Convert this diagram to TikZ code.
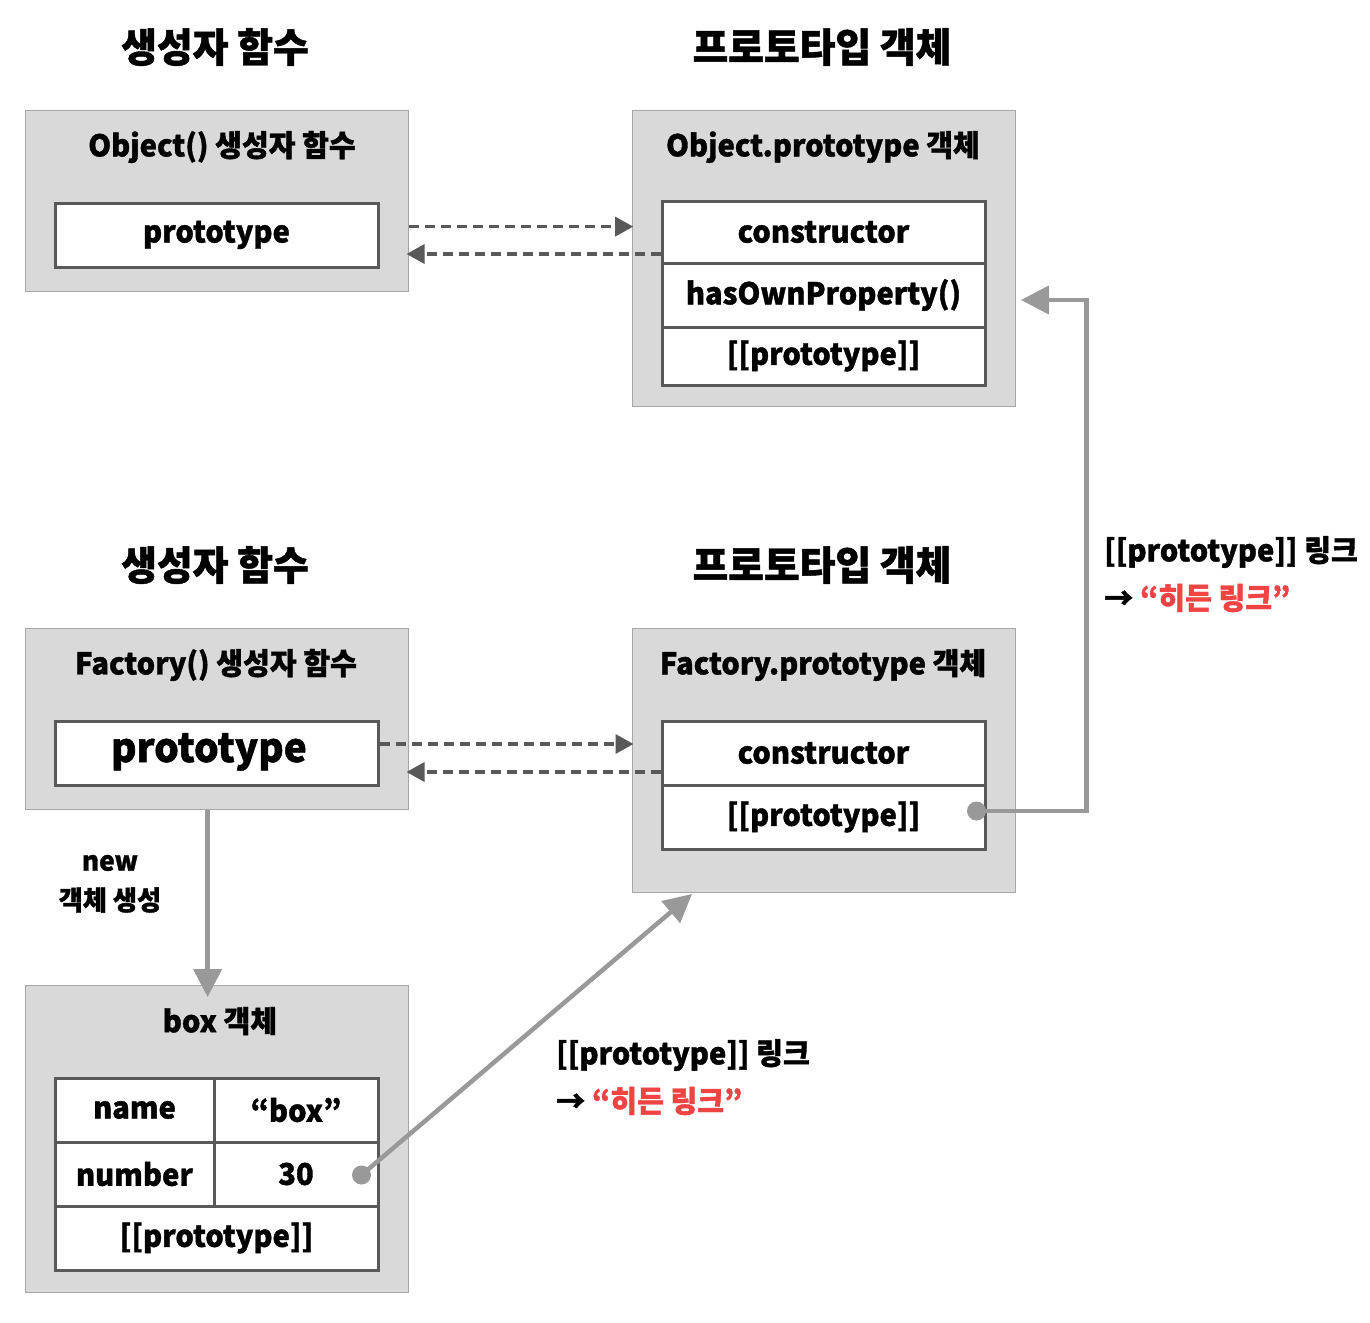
\documentclass[tikz,border=0pt]{standalone}
\usepackage{fontspec}
\setmainfont{Noto Sans CJK KR}[FakeStretch=0.97, BoldFeatures={FakeBold=1.2}]
\usetikzlibrary{arrows.meta}
\definecolor{boxfill}{HTML}{D9D9D9}
\definecolor{boxline}{HTML}{A6A6A6}
\definecolor{inline}{HTML}{595959}
\definecolor{linkgray}{HTML}{999999}
\definecolor{hidred}{HTML}{F04444}
\begin{document}
\begin{tikzpicture}[x=1pt,y=-1pt,
  outer/.style={draw=boxline, line width=1.2pt, fill=boxfill, anchor=north west, inner sep=0pt},
  cell/.style={draw=inline, line width=3pt, fill=white, inner sep=0pt, minimum width=323, minimum height=64, font=\bfseries\fontsize{30}{32}\selectfont},
  head/.style={font=\bfseries\fontsize{40}{42}\selectfont, inner sep=0pt},
  btitle/.style={font=\bfseries\fontsize{30}{32}\selectfont, inner sep=0pt},
  lbl/.style={font=\bfseries\fontsize{30}{32}\selectfont, inner sep=0pt, anchor=west},
  dasharrow/.style={draw=inline, line width=3.5pt, dash pattern=on 10pt off 6pt, -{Triangle[length=18pt,width=19pt]}},
  link/.style={draw=linkgray, line width=4.5pt, -{Triangle[length=28pt,width=28pt]}},
  dotc/.style={fill=linkgray}
]
\useasboundingbox (0,0) rectangle (1370,1322);
\fill[white] (0,0) rectangle (1370,1322);

% headings
\node[head] (h1) at (215,47) {생성자 함수};
\node[head] (h2) at (822,47) {프로토타입 객체};
\node[head] (h3) at (215,565) {생성자 함수};
\node[head] (h4) at (822,565) {프로토타입 객체};

% Object() constructor
\node[outer, minimum width=383, minimum height=181] (objf) at (25,110) {};
\node[btitle] (objft) at (222,147) {Object() 생성자 함수};
\node[cell, minimum height=64] (objp) at (216.5,235) {prototype};

% Object.prototype
\node[outer, minimum width=383, minimum height=296] (oproto) at (632,110) {};
\node[btitle] (oprotot) at (823,147) {Object.prototype 객체};
\node[cell, minimum height=62] (oconst) at (823.5,232) {constructor};
\node[cell, minimum height=64] (ohas) at (823.5,295) {hasOwnProperty()};
\node[cell, minimum height=58] (opp) at (823.5,356) {[[prototype]]};

% dashed arrows (Object)
\draw[dasharrow] ([yshift=-25.5pt]objf.east) -- ++(224,0);
\draw[dasharrow] ([yshift=-22pt]oconst.west) -- ++(-254,0);

% Factory() constructor
\node[outer, minimum width=383, minimum height=181] (fctor) at (25,628) {};
\node[btitle] (fctort) at (216,665) {Factory() 생성자 함수};
\node[cell, minimum height=64] (fp) at (216.5,753) {};
\node[btitle, font=\bfseries\fontsize{40}{42}\selectfont] (fpt) at (209,752) {prototype};

% Factory.prototype
\node[outer, minimum width=383, minimum height=264] (fproto) at (632,628) {};
\node[btitle] (fprotot) at (823,665) {Factory.prototype 객체};
\node[cell, minimum height=64] (fconst) at (823.5,753) {constructor};
\node[cell, minimum height=64] (fpp) at (823.5,817) {[[prototype]]};

% dashed arrows (Factory)
\draw[dasharrow] ([yshift=9pt]fp.east) -- ++(254,0);
\draw[dasharrow] ([yshift=-19pt]fconst.west) -- ++(-254,0);

% box object
\node[outer, minimum width=383, minimum height=307] (boxo) at (25,985) {};
\node[btitle] (boxt) at (220,1021) {box 객체};
\node[cell, minimum width=159] (bname) at (134.5,1110) {name};
\node[cell, minimum width=164] (bnamev) at (296,1110) {“box”};
\node[cell, minimum width=159] (bnum) at (134.5,1174) {number};
\node[cell, minimum width=164] (bnumv) at (296,1174) {30};
\node[cell] (bpp) at (216.5,1238) {[[prototype]]};

% new arrow
\draw[link] ([xshift=-9.5pt]fctor.south) -- ([xshift=-9.5pt,yshift=-12pt]boxo.north);
\node[btitle, font=\bfseries\fontsize{27}{29}\selectfont] (newl) at (110,863) {new};
\node[btitle, font=\bfseries\fontsize{27}{29}\selectfont] (newl2) at (110,900) {객체 생성};

% hidden link Factory.prototype -> Object.prototype
\coordinate (dot1) at ([xshift=-10pt,yshift=6pt]fpp.east);
\coordinate (linkend1) at (1021,300);
\fill[dotc] (dot1) circle (9.5pt);
\draw[link, line join=miter] (dot1) -- ++(110,0) |- (linkend1);

% hidden link box -> Factory.prototype
\coordinate (dot2) at ([xshift=-18pt,yshift=-1pt]bnumv.east);
\coordinate (linkend2) at (692,894);
\fill[dotc] (dot2) circle (9.5pt);
\draw[link] (dot2) -- (linkend2);

% labels
\node[lbl] (l1a) at (1104,552) {[[prototype]] 링크};
\node[lbl] (l1b) at (1104,598) {→ \textcolor{hidred}{“히든 링크”}};
\node[lbl] (l2a) at (556,1055) {[[prototype]] 링크};
\node[lbl] (l2b) at (556,1101) {→ \textcolor{hidred}{“히든 링크”}};
\end{tikzpicture}
\end{document}
